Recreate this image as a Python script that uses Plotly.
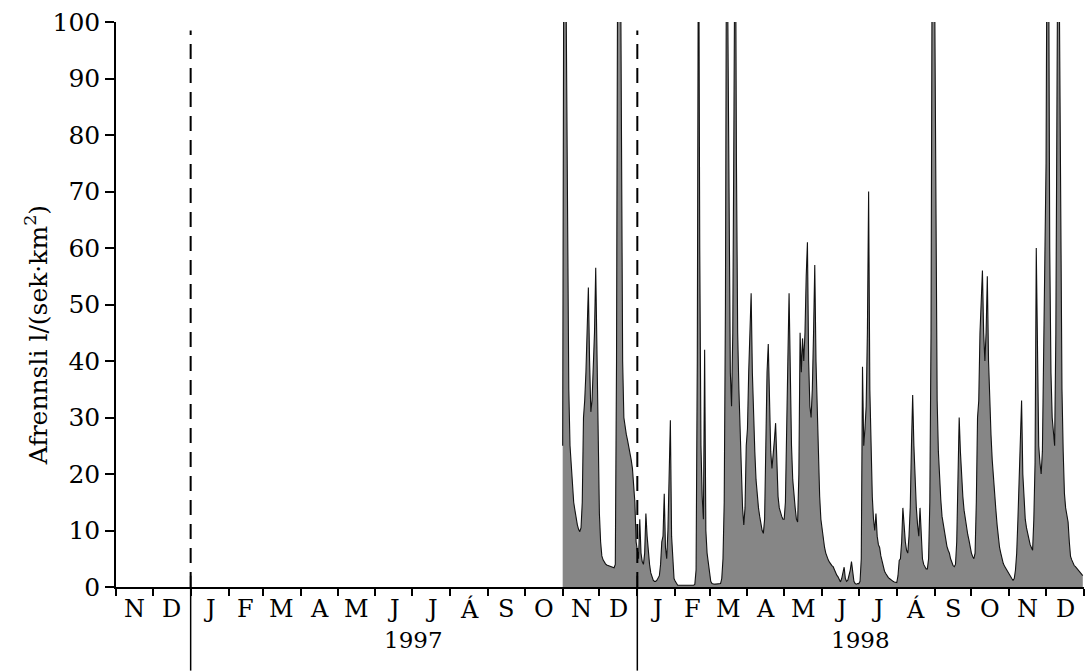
import pandas as pd
import plotly.graph_objects as go

# ---------------- data (daily runoff, l/(s·km²)) ----------------
start_date = "1997-11-01"
nov97 = [25, 125, 130, 100, 60, 35, 25, 21, 17, 15, 13.6, 12, 11, 10.2, 9.8, 10.5, 15, 30, 33, 38,
         45, 53, 40, 31, 33, 38, 45, 56.5, 40, 25]
dec97 = [13, 8, 5.5, 4.8, 4.3, 4.1, 3.9, 3.8, 3.7, 3.6, 3.5, 3.4, 3.4, 4, 40, 120, 105, 125, 70, 40,
         30, 28, 27, 26, 25, 23.5, 22.5, 21, 18, 15, 8]
jan98 = [6, 5, 12, 6, 4.5, 4, 6, 13, 9, 6, 4, 2.5, 1.8, 1.2, 1, 1, 1.2, 1.5, 2, 4,
         8, 9, 16.5, 7, 5, 10, 20, 29.5, 9, 4, 1.5]
feb98 = [1, 0.6, 0.3, 0.3, 0.3, 0.3, 0.3, 0.3, 0.3, 0.3, 0.3, 0.3, 0.3, 0.3, 0.3, 0.3, 0.5, 3, 40, 130,
         60, 25, 16, 12, 42, 10, 6, 4]
mar98 = [2, 1, 0.6, 0.5, 0.5, 0.5, 0.5, 0.5, 0.5, 0.6, 1.5, 5, 15, 50, 130, 95, 55, 38, 32, 45,
         85, 130, 75, 45, 35, 28, 20, 14, 11, 14, 25]
apr98 = [28, 38, 45, 52, 38, 30, 24, 19, 16, 14, 12.5, 11, 10, 9.5, 12, 25, 38, 43, 30, 24,
         21, 23, 26, 29, 20, 16, 14, 13, 12.5, 12]
may98 = [12, 15, 25, 40, 52, 35, 25, 19, 16, 14, 12, 11.5, 20, 45, 38, 44, 40, 45, 55, 61,
         40, 32, 30, 35, 45, 57, 40, 31, 22, 16, 12]
jun98 = [10, 8.3, 7, 6, 5.3, 4.8, 4.4, 4, 3.8, 3.6, 3, 2.5, 2.1, 1.8, 1.3, 0.9, 1.5, 2.5, 3.5, 1.5,
         1, 1.2, 2, 3, 4.5, 2.5, 1, 0.6, 0.5, 0.6]
jul98 = [0.6, 1, 5, 39, 25, 28, 32, 45, 70, 35, 22, 16, 12, 10, 13, 9, 7.5, 7, 5.5, 4.5,
         3.5, 2.8, 2.4, 2, 1.7, 1.5, 1.3, 1.1, 1, 0.9, 0.8]
aug98 = [0.8, 2, 4.7, 5, 8, 14, 10, 8, 6.5, 6, 9, 14, 25, 34, 25, 18, 14, 11, 9, 14,
         8, 5, 4, 3.5, 3.2, 3.2, 5, 15, 45, 120, 130]
sep98 = [105, 55, 33, 24, 19, 15.4, 12.5, 11, 10, 8.5, 7.2, 6.5, 6, 5, 4.3, 3.8, 3.6, 4, 8, 18,
         30, 24, 19, 16, 13.6, 12, 10.5, 9.3, 8.3, 7]
oct98 = [6, 5.4, 5, 6, 15, 30, 33, 45, 50, 56, 45, 40, 45, 55, 40, 32, 27, 22.5, 19, 16,
         13.6, 11, 8.7, 7, 6, 4.7, 4.2, 3.7, 3.3, 3, 2.5]
nov98 = [2.2, 1.8, 1.5, 1.2, 1.5, 3, 6, 12, 18, 25, 33, 20, 15, 12, 10.5, 9.4, 8.5, 7.5, 7, 6.5,
         12, 22, 60, 35, 25, 22, 20, 24, 40, 64]
dec98 = [75, 130, 120, 60, 38, 30, 27, 25, 45, 90, 135, 100, 60, 35, 24, 16.6, 14, 12.5, 11.5, 8,
         5.4, 4.8, 4.2, 3.8, 3.6, 3.3, 3, 2.7, 2.4, 2.2, 2]

month_letters = ["N", "D", "J", "F", "M", "A", "M", "J", "J", "Á", "S", "O", "N", "D",
                 "J", "F", "M", "A", "M", "J", "J", "Á", "S", "O", "N", "D"]
years = ["1997", "1998"]
y_ticks = [0, 10, 20, 30, 40, 50, 60, 70, 80, 90, 100]
y_title = "Afrennsli l/(sek·km<sup>2</sup>)"

# ---------------- build ----------------
values = nov97 + dec97 + jan98 + feb98 + mar98 + apr98 + may98 + jun98 + jul98 + aug98 + sep98 + oct98 + nov98 + dec98
dates = pd.date_range(start_date, periods=len(values), freq="D")

month_starts = pd.date_range("1996-11-01", "1999-01-01", freq="MS")
month_mids = [a + (b - a) / 2 for a, b in zip(month_starts[:-1], month_starts[1:])]
year_starts = [pd.Timestamp(y + "-01-01") for y in years]
year_mids = [pd.Timestamp(y + "-07-02") for y in years]

FONT = "DejaVu Serif, serif"

fig = go.Figure()
fig.add_trace(go.Scatter(
    x=dates, y=values, mode="lines",
    line=dict(color="#111111", width=1.1),
    fill="tozeroy", fillcolor="#868686",
    hoverinfo="skip", showlegend=False,
))

shapes = []
for ys in year_starts:
    shapes.append(dict(type="line", xref="x", yref="y", x0=ys, x1=ys, y0=0, y1=98.5,
                       line=dict(color="black", width=2, dash="15px,9px")))
    shapes.append(dict(type="line", xref="x", yref="paper", x0=ys, x1=ys, y0=0.02, y1=-0.148,
                       line=dict(color="black", width=1.5)))

annotations = []
for m, xm in zip(month_letters, month_mids):
    annotations.append(dict(x=xm, y=0, xref="x", yref="paper", text=m, showarrow=False,
                            yanchor="top", yshift=-6, font=dict(family=FONT, size=24, color="black")))
for yl, xm in zip(years, year_mids):
    annotations.append(dict(x=xm, y=0, xref="x", yref="paper", text=yl, showarrow=False,
                            yanchor="top", yshift=-38, font=dict(family=FONT, size=23, color="black")))
# y-axis title (placed as rotated text, slightly below the plot's centre as in the original)
annotations.append(dict(x=-0.082, y=0.445, xref="paper", yref="paper", text=y_title,
                        showarrow=False, textangle=-90, xanchor="center", yanchor="middle",
                        font=dict(family=FONT, size=25, color="black")))

fig.update_layout(
    width=1085, height=671,
    margin=dict(l=116, r=1, t=22, b=84),
    paper_bgcolor="white", plot_bgcolor="white",
    font=dict(family=FONT, size=24, color="black"),
    shapes=shapes, annotations=annotations,
    showlegend=False,
)
fig.update_xaxes(
    type="date", range=["1996-11-01", "1999-01-01"],
    tickvals=list(month_starts), showticklabels=False,
    ticks="outside", ticklen=7, tickwidth=1.5, tickcolor="black",
    showline=True, linecolor="black", linewidth=1.5,
    showgrid=False, zeroline=False,
)
fig.update_yaxes(
    range=[0, 100], tickvals=y_ticks,
    ticks="outside", ticklen=9, tickwidth=1.5, tickcolor="black",
    showline=True, linecolor="black", linewidth=1.5,
    showgrid=False, zeroline=False,
    tickfont=dict(family=FONT, size=25, color="black"),
)

fig.write_html("out.html")
